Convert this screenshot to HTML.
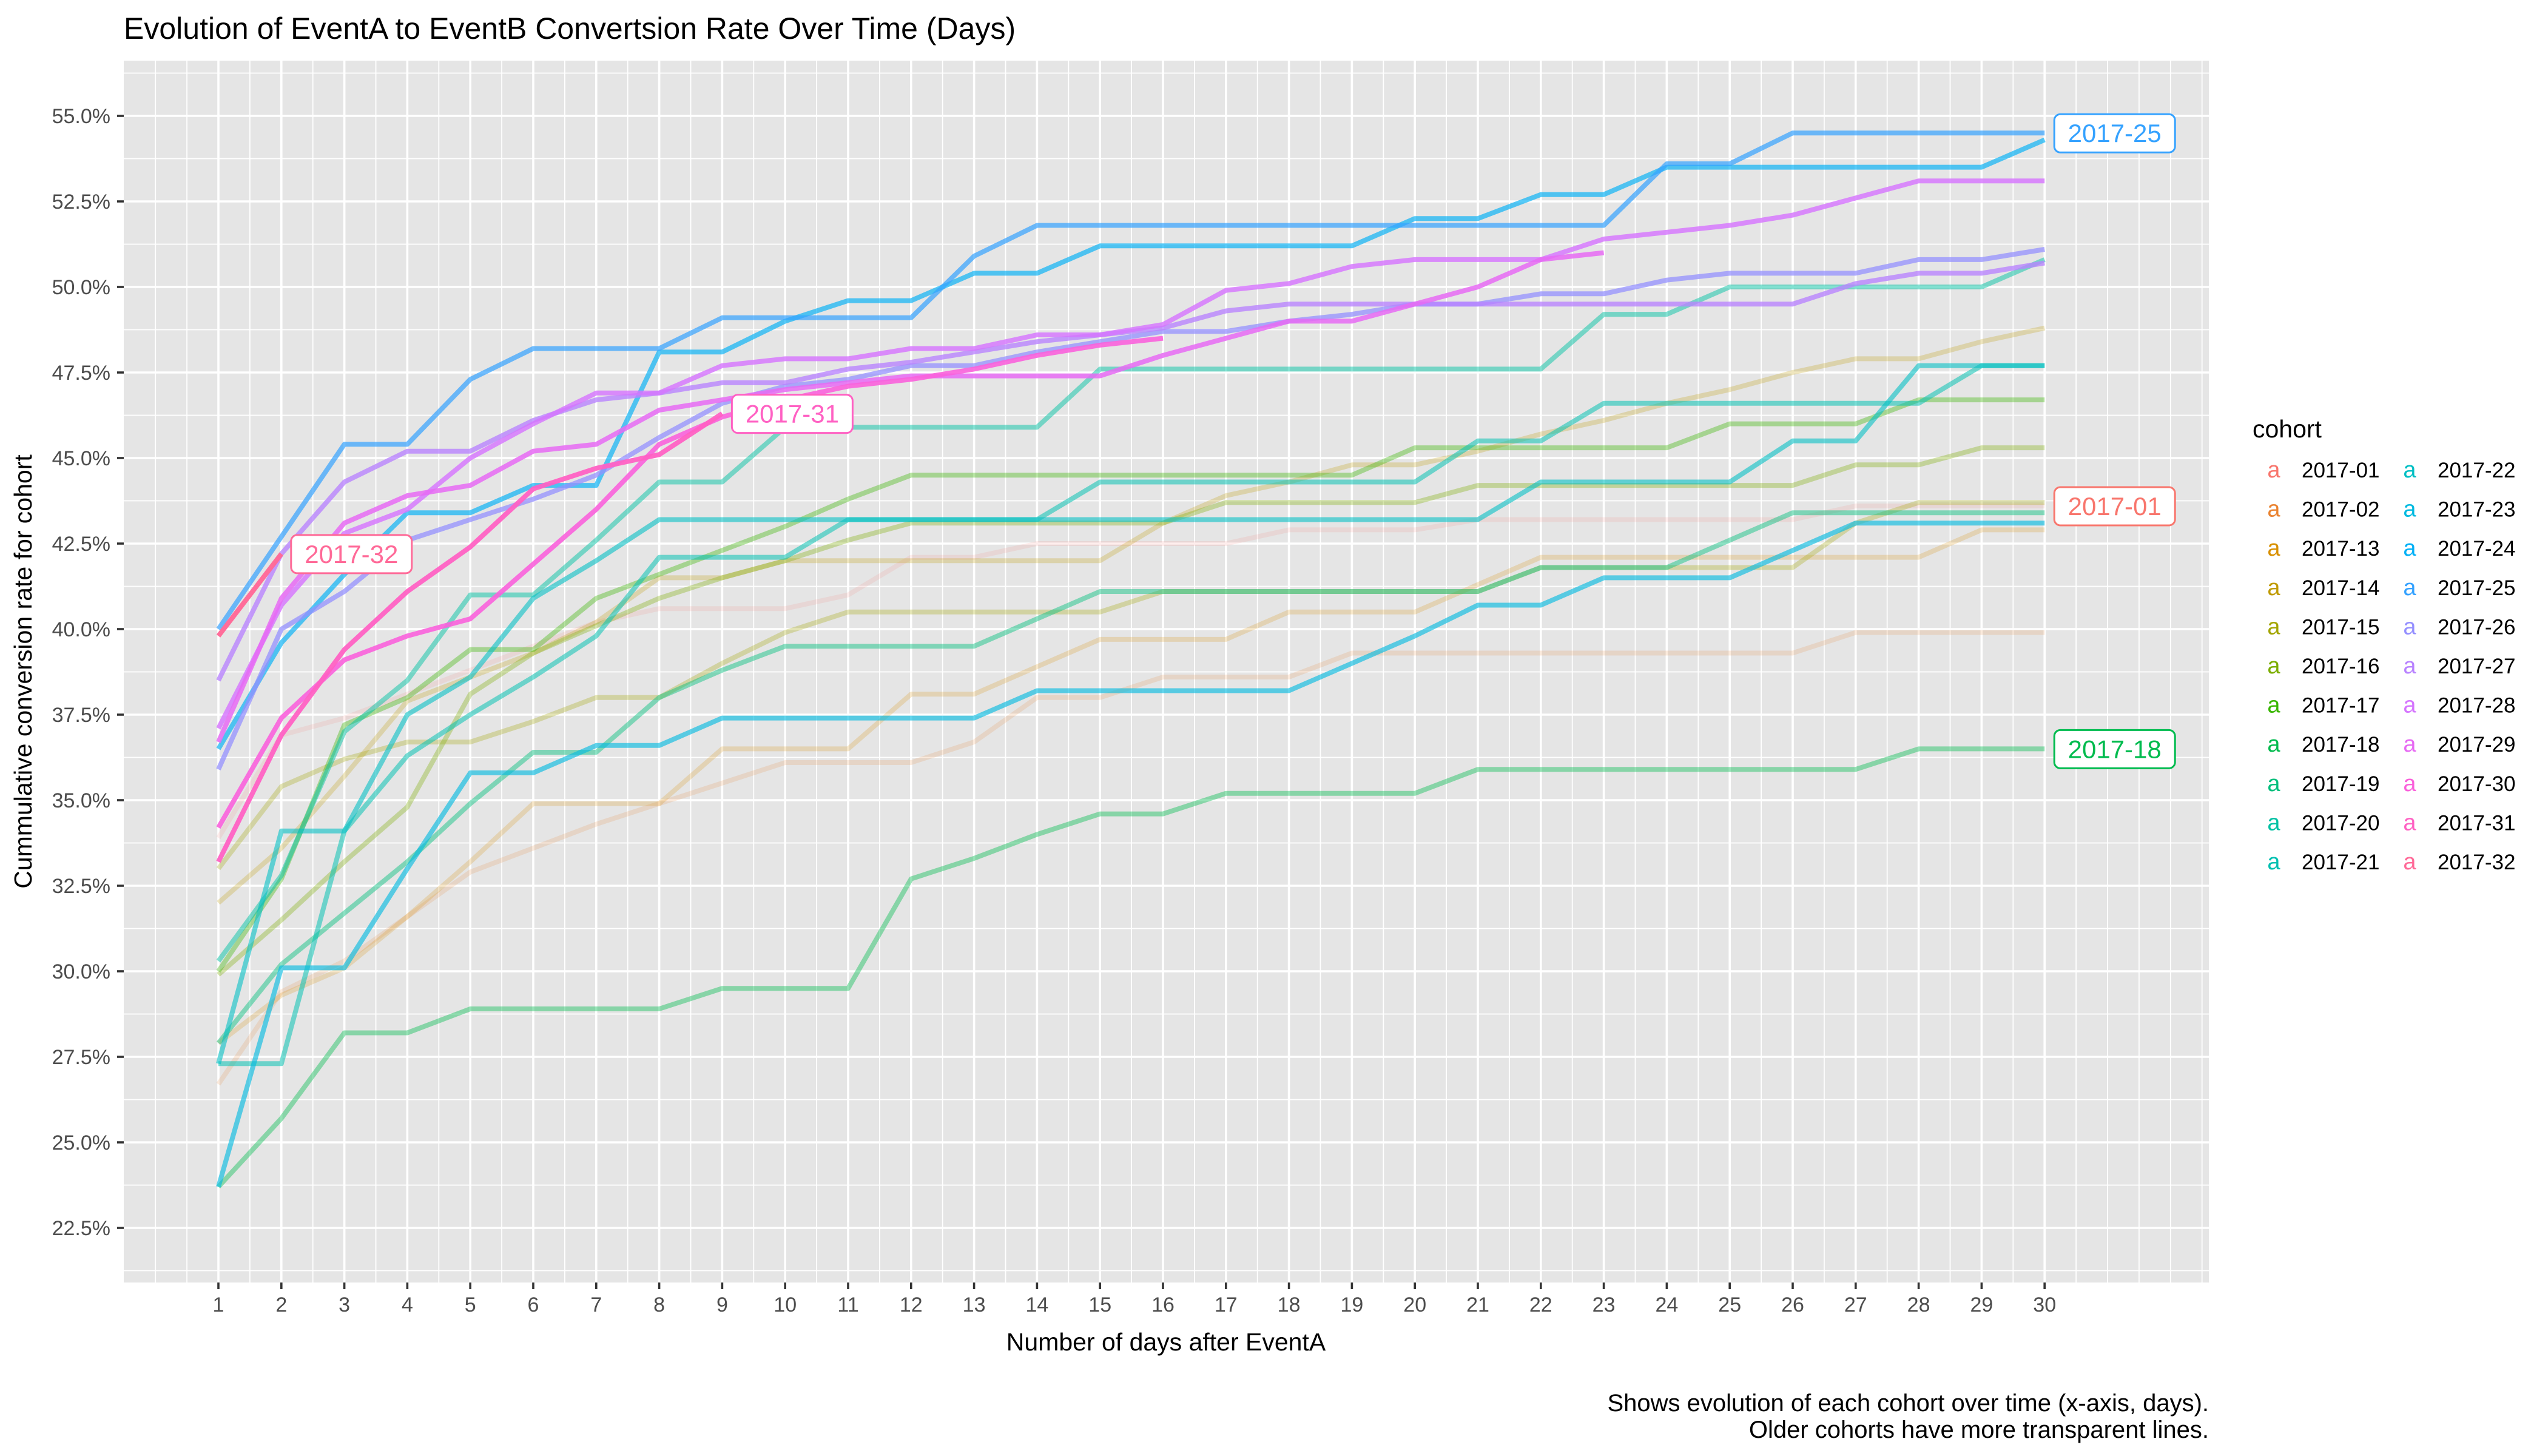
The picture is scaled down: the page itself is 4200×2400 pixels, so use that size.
<!DOCTYPE html>
<html><head><meta charset="utf-8"><style>
html,body{margin:0;padding:0;background:#fff;}
svg{display:block;font-family:"Liberation Sans",Arial,sans-serif;}
</style></head><body>
<svg id="chart" width="4200" height="2400" viewBox="0 0 4200 2400" xmlns="http://www.w3.org/2000/svg">
<rect width="4200" height="2400" fill="#fff"/>
<text x="204" y="64" font-size="50" fill="#000">Evolution of EventA to EventB Convertsion Rate Over Time (Days)</text>
<rect x="204" y="100" width="3437" height="2014" fill="#e5e5e5"/>
<g id="grid"></g>
<g id="lines"></g>
<g id="labels"></g>
<g id="axes"></g>
<text x="1922" y="2226" font-size="41" text-anchor="middle" fill="#000">Number of days after EventA</text>
<text transform="translate(52,1107) rotate(-90)" font-size="41" text-anchor="middle" fill="#000">Cummulative conversion rate for cohort</text>
<text x="3641" y="2326" font-size="40" text-anchor="end" fill="#000">Shows evolution of each cohort over time (x-axis, days).</text>
<text x="3641" y="2370" font-size="40" text-anchor="end" fill="#000">Older cohorts have more transparent lines.</text>
<g id="legend">
<text x="3713" y="721" font-size="41" fill="#000">cohort</text>
</g>
</svg>
<script>
const cohorts = ["2017-01","2017-02","2017-13","2017-14","2017-15","2017-16","2017-17","2017-18","2017-19","2017-20","2017-21","2017-22","2017-23","2017-24","2017-25","2017-26","2017-27","2017-28","2017-29","2017-30","2017-31","2017-32"];
const colors = ["#F8766D","#EA8331","#D89000","#C09B00","#A3A500","#7CAE00","#39B600","#00BB4E","#00BF7D","#00C1A3","#00C0B1","#00BFC4","#00BAE0","#00B0F6","#35A2FF","#9590FF","#B983FF","#D575FE","#E76BF3","#FA62DB","#FF61C3","#FF6A98"];
const yTicks = [22.5,25,27.5,30,32.5,35,37.5,40,42.5,45,47.5,50,52.5,55];
const yTickLabels = ["22.5%","25.0%","27.5%","30.0%","32.5%","35.0%","37.5%","40.0%","42.5%","45.0%","47.5%","50.0%","52.5%","55.0%"];
const xTicks = [1,2,3,4,5,6,7,8,9,10,11,12,13,14,15,16,17,18,19,20,21,22,23,24,25,26,27,28,29,30];
const labeled = ["2017-25","2017-01","2017-18","2017-31","2017-32"];
const s2017_01 = [33.9,36.9,37.4,38.1,38.8,39.5,40.2,40.6,40.6,40.6,41.0,42.1,42.1,42.5,42.5,42.5,42.5,42.9,42.9,42.9,43.2,43.2,43.2,43.2,43.2,43.2,43.6,43.6,43.6,43.6];
const s2017_02 = [26.7,29.4,30.3,31.6,32.9,33.6,34.3,34.9,35.5,36.1,36.1,36.1,36.7,38.0,38.0,38.6,38.6,38.6,39.3,39.3,39.3,39.3,39.3,39.3,39.3,39.3,39.9,39.9,39.9,39.9];
const s2017_13 = [27.9,29.3,30.1,31.6,33.2,34.9,34.9,34.9,36.5,36.5,36.5,38.1,38.1,38.9,39.7,39.7,39.7,40.5,40.5,40.5,41.3,42.1,42.1,42.1,42.1,42.1,42.1,42.1,42.9,42.9];
const s2017_14 = [32.0,33.6,35.7,37.9,38.6,39.3,40.2,41.5,41.5,42.0,42.0,42.0,42.0,42.0,42.0,43.1,43.9,44.3,44.8,44.8,45.2,45.7,46.1,46.6,47.0,47.5,47.9,47.9,48.4,48.8];
const s2017_15 = [33.0,35.4,36.2,36.7,36.7,37.3,38.0,38.0,39.0,39.9,40.5,40.5,40.5,40.5,40.5,41.1,41.1,41.1,41.1,41.1,41.1,41.8,41.8,41.8,41.8,41.8,43.1,43.7,43.7,43.7];
const s2017_16 = [29.9,31.5,33.2,34.8,38.1,39.3,40.1,40.9,41.5,42.0,42.6,43.1,43.1,43.1,43.1,43.1,43.7,43.7,43.7,43.7,44.2,44.2,44.2,44.2,44.2,44.2,44.8,44.8,45.3,45.3];
const s2017_17 = [30.0,32.7,37.2,38.0,39.4,39.4,40.9,41.6,42.3,43.0,43.8,44.5,44.5,44.5,44.5,44.5,44.5,44.5,44.5,45.3,45.3,45.3,45.3,45.3,46.0,46.0,46.0,46.7,46.7,46.7];
const s2017_18 = [23.7,25.7,28.2,28.2,28.9,28.9,28.9,28.9,29.5,29.5,29.5,32.7,33.3,34.0,34.6,34.6,35.2,35.2,35.2,35.2,35.9,35.9,35.9,35.9,35.9,35.9,35.9,36.5,36.5,36.5];
const s2017_19 = [27.9,30.2,31.7,33.2,34.9,36.4,36.4,38.0,38.8,39.5,39.5,39.5,39.5,40.3,41.1,41.1,41.1,41.1,41.1,41.1,41.1,41.8,41.8,41.8,42.6,43.4,43.4,43.4,43.4,43.4];
const s2017_20 = [30.3,32.8,37.0,38.5,41.0,41.0,42.6,44.3,44.3,45.9,45.9,45.9,45.9,45.9,47.6,47.6,47.6,47.6,47.6,47.6,47.6,47.6,49.2,49.2,50.0,50.0,50.0,50.0,50.0,50.8];
const s2017_21 = [27.3,27.3,34.1,36.3,37.5,38.6,39.8,42.1,42.1,42.1,43.2,43.2,43.2,43.2,44.3,44.3,44.3,44.3,44.3,44.3,45.5,45.5,46.6,46.6,46.6,46.6,46.6,46.6,47.7,47.7];
const s2017_22 = [27.3,34.1,34.1,37.5,38.6,40.9,42.0,43.2,43.2,43.2,43.2,43.2,43.2,43.2,43.2,43.2,43.2,43.2,43.2,43.2,43.2,44.3,44.3,44.3,44.3,45.5,45.5,47.7,47.7,47.7];
const s2017_23 = [23.7,30.1,30.1,33.0,35.8,35.8,36.6,36.6,37.4,37.4,37.4,37.4,37.4,38.2,38.2,38.2,38.2,38.2,39.0,39.8,40.7,40.7,41.5,41.5,41.5,42.3,43.1,43.1,43.1,43.1];
const s2017_24 = [36.5,39.6,41.6,43.4,43.4,44.2,44.2,48.1,48.1,49.0,49.6,49.6,50.4,50.4,51.2,51.2,51.2,51.2,51.2,52.0,52.0,52.7,52.7,53.5,53.5,53.5,53.5,53.5,53.5,54.3];
const s2017_25 = [40.0,42.7,45.4,45.4,47.3,48.2,48.2,48.2,49.1,49.1,49.1,49.1,50.9,51.8,51.8,51.8,51.8,51.8,51.8,51.8,51.8,51.8,51.8,53.6,53.6,54.5,54.5,54.5,54.5,54.5];
const s2017_26 = [35.9,40.0,41.1,42.6,43.2,43.8,44.5,45.6,46.6,47.1,47.3,47.7,47.7,48.1,48.4,48.7,48.7,49.0,49.2,49.5,49.5,49.8,49.8,50.2,50.4,50.4,50.4,50.8,50.8,51.1];
const s2017_27 = [38.5,42.2,44.3,45.2,45.2,46.1,46.7,46.9,47.2,47.2,47.6,47.8,48.1,48.4,48.6,48.8,49.3,49.5,49.5,49.5,49.5,49.5,49.5,49.5,49.5,49.5,50.1,50.4,50.4,50.7];
const s2017_28 = [37.1,40.7,42.8,43.5,45.0,46.0,46.9,46.9,47.7,47.9,47.9,48.2,48.2,48.6,48.6,48.9,49.9,50.1,50.6,50.8,50.8,50.8,51.4,51.6,51.8,52.1,52.6,53.1,53.1,53.1];
const s2017_29 = [36.7,40.9,43.1,43.9,44.2,45.2,45.4,46.4,46.7,47.0,47.2,47.4,47.4,47.4,47.4,48.0,48.5,49.0,49.0,49.5,50.0,50.8,51.0];
const s2017_30 = [34.2,37.4,39.1,39.8,40.3,41.9,43.5,45.4,46.2,46.7,47.1,47.3,47.6,48.0,48.3,48.5];
const s2017_31 = [33.2,36.9,39.4,41.1,42.4,44.1,44.7,45.1,46.3];
const s2017_32 = [39.8,42.2];
const series = [s2017_01,s2017_02,s2017_13,s2017_14,s2017_15,s2017_16,s2017_17,s2017_18,s2017_19,s2017_20,s2017_21,s2017_22,s2017_23,s2017_24,s2017_25,s2017_26,s2017_27,s2017_28,s2017_29,s2017_30,s2017_31,s2017_32];

const NS = "http://www.w3.org/2000/svg";
const PL = 204, PR = 3641, PT = 100, PB = 2114;
function xScale(d){ return 360 + (d - 1) * 103.8; }
function yScale(v){ return 191 + (55 - v) * 56.4; }
function mk(tag, attrs, parent){ const e = document.createElementNS(NS, tag); for (const k in attrs) e.setAttribute(k, attrs[k]); parent.appendChild(e); return e; }

const grid = document.getElementById('grid');
for (let v = 21.25; v <= 56.3; v += 1.25) {
  const major = Math.abs((v / 2.5) - Math.round(v / 2.5)) < 1e-6;
  const l = mk('line', {x1: PL, x2: PR, y1: yScale(v), y2: yScale(v), stroke: '#fff', 'stroke-width': major ? 3.6 : 1.8}, grid);
  
  
}
for (let d = -0.5; d <= 32.6; d += 0.5) {
  const major = Number.isInteger(d) && d >= 1 && d <= 30;
  const x = xScale(d);
  if (x < PL + 1 || x > PR - 1) continue;
  const l = mk('line', {x1: x, x2: x, y1: PT, y2: PB, stroke: '#fff', 'stroke-width': major ? 3.6 : 1.8}, grid);
  
  
}

const axes = document.getElementById('axes');
yTicks.forEach((v, i) => {
  const t = mk('line', {x1: 193, x2: 204, y1: yScale(v), y2: yScale(v), stroke: '#333', 'stroke-width': 3.6}, axes);
  
  
  const tx = mk('text', {x: 182, y: yScale(v) + 12, 'font-size': 34, 'text-anchor': 'end', fill: '#4d4d4d'}, axes);
  tx.textContent = yTickLabels[i];
  
  
});
xTicks.forEach(d => {
  const t = mk('line', {x1: xScale(d), x2: xScale(d), y1: 2114, y2: 2125, stroke: '#333', 'stroke-width': 3.6}, axes);
  
  
  const tx = mk('text', {x: xScale(d), y: 2162, 'font-size': 34, 'text-anchor': 'middle', fill: '#4d4d4d'}, axes);
  tx.textContent = String(d);
  
  
});

const linesG = document.getElementById('lines');
const labelsG = document.getElementById('labels');
series.forEach((vals, i) => {
  const alpha = 0.13 + 0.85 * i / (series.length - 1);
  const pts = vals.map((v, k) => xScale(k + 1).toFixed(1) + ',' + yScale(v).toFixed(1)).join(' ');
  const p = mk('polyline', {points: pts, fill: 'none', stroke: colors[i], 'stroke-opacity': alpha.toFixed(2), 'stroke-width': 8, 'stroke-linejoin': 'round'}, linesG);
  
  
});
labeled.forEach(name => {
  const i = cohorts.indexOf(name);
  const vals = series[i];
  const d = vals.length, v = vals[d - 1];
  const x = xScale(d) + 16, y = yScale(v);
  const g = mk('g', {}, labelsG);
  
  
  mk('rect', {x: x, y: y - 31, width: 199, height: 63, rx: 10, fill: '#fff', stroke: colors[i], 'stroke-width': 3}, g);
  const t = mk('text', {x: x + 99.5, y: y + 15, 'font-size': 42, 'text-anchor': 'middle', fill: colors[i]}, g);
  t.textContent = name;
});

const leg = document.getElementById('legend');
cohorts.forEach((c, i) => {
  const col = Math.floor(i / 11), row = i % 11;
  const y = 775 + row * 64.6;
  const kx = col === 0 ? 3748 : 3972, tx = col === 0 ? 3794 : 4018;
  const g = mk('g', {}, leg);
  
  
  const k = mk('text', {x: kx, y: y + 12, 'font-size': 38, 'text-anchor': 'middle', fill: colors[i]}, g);
  k.textContent = 'a';
  const t = mk('text', {x: tx, y: y + 12, 'font-size': 35, fill: '#000'}, g);
  t.textContent = c;
});
</script>
</body></html>
